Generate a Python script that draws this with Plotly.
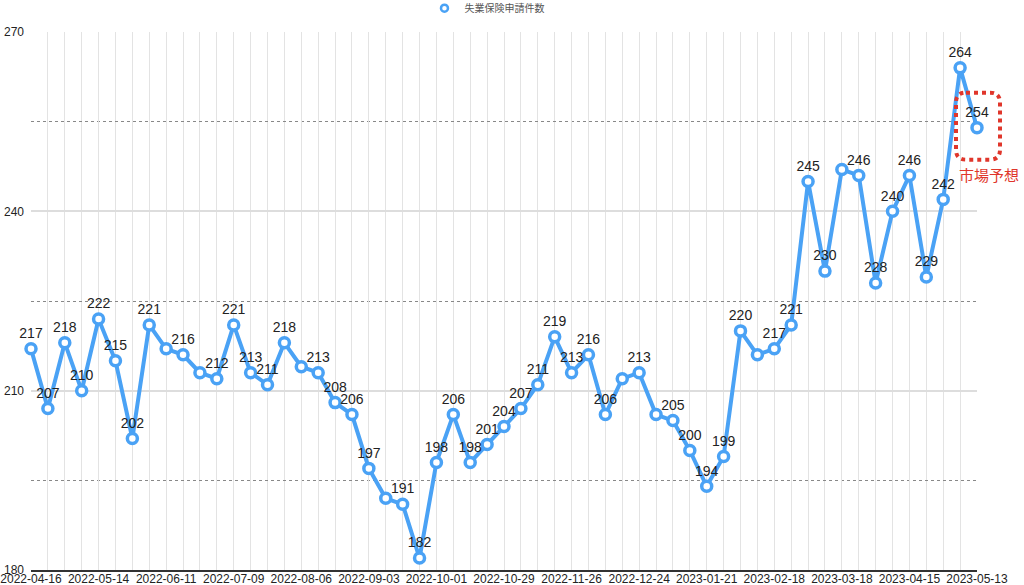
import plotly.graph_objects as go
import pandas as pd

# ---- data ----
dates = pd.date_range("2022-04-16", periods=57, freq="7D").strftime("%Y-%m-%d").tolist()
claims = [217, 207, 218, 210, 222, 215, 202, 221, 217, 216,
          213, 212, 221, 213, 211, 218, 214, 213, 208, 206,
          197, 192, 191, 182, 198, 206, 198, 201, 204, 207,
          211, 219, 213, 216, 206, 212, 213, 206, 205, 200,
          194, 199, 220, 216, 217, 221, 245, 230, 247, 246,
          228, 240, 246, 229, 242, 264, 254]
hidden_label_idx = [8, 10, 16, 21, 35, 37, 43, 48]
labels = ["" if i in hidden_label_idx else str(v) for i, v in enumerate(claims)]
series_name = "失業保険申請件数"
forecast_text = "市場予想"

y_min, y_max = 180, 270
BLUE = "#4aa2f5"
RED = "#e0362b"
FONT = "Liberation Sans, Noto Sans CJK JP, sans-serif"

fig = go.Figure()
fig.add_trace(go.Scatter(
    x=dates, y=claims, mode="lines+markers+text",
    text=labels, textposition="top center",
    textfont=dict(size=14, color="#222222", family=FONT),
    line=dict(color=BLUE, width=4),
    marker=dict(size=10, color="white", line=dict(color=BLUE, width=3.5)),
    cliponaxis=False, showlegend=False, hoverinfo="x+y",
))
# legend-only entry (hollow marker)
fig.add_trace(go.Scatter(
    x=[None], y=[None], mode="markers", name=series_name,
    marker=dict(size=7, color="white", line=dict(color=BLUE, width=2.5)),
))

# forecast highlight around the last point (positioned from data)
last_x_frac = 1.0  # last date sits at the right end of the x range
last_y_frac = (claims[-1] - y_min) / (y_max - y_min)
L, R, T, B, r = -21, 23, 35, -32, 10
path = (f"M {L+r},{T} L {R-r},{T} Q {R},{T} {R},{T-r} L {R},{B+r} Q {R},{B} {R-r},{B} "
        f"L {L+r},{B} Q {L},{B} {L},{B+r} L {L},{T-r} Q {L},{T} {L+r},{T} Z")
fig.add_shape(type="path", path=path, xref="paper", yref="paper",
              xsizemode="pixel", ysizemode="pixel",
              xanchor=last_x_frac, yanchor=last_y_frac,
              line=dict(color=RED, width=4, dash="dot"))
fig.add_annotation(text=forecast_text, xref="paper", yref="paper",
                   x=last_x_frac, y=last_y_frac, xanchor="center", yanchor="middle",
                   xshift=12, yshift=-48,
                   showarrow=False, font=dict(size=15, color=RED, family=FONT))

fig.update_layout(
    width=1024, height=585,
    margin=dict(l=31, r=47, t=32, b=15),
    paper_bgcolor="white", plot_bgcolor="white",
    font=dict(family=FONT, size=12, color="#222222"),
    legend=dict(orientation="h", x=0.482, xanchor="center", y=0.986, yanchor="middle",
                yref="container", font=dict(size=10, color="#555555"),
                bgcolor="rgba(0,0,0,0)"),
    xaxis=dict(
        type="date", range=[dates[0], dates[-1]],
        tick0=dates[0], dtick=28 * 86400000, tickformat="%Y-%m-%d",
        showgrid=True, gridcolor="#e3e3e3", gridwidth=1,
        minor=dict(dtick=7 * 86400000, tick0=dates[0], showgrid=True,
                   gridcolor="#e3e3e3", gridwidth=1),
        showline=True, linecolor="#333333", linewidth=1.5,
        ticks="", tickfont=dict(size=12, color="#222222"), ticklabelstandoff=-3,
        zeroline=False, automargin=False,
    ),
    yaxis=dict(
        range=[y_min, y_max], tick0=180, dtick=30,
        showgrid=True, gridcolor="#dddddd", gridwidth=1.5,
        minor=dict(dtick=15, tick0=180, showgrid=True, gridcolor="#888888",
                   gridwidth=1, griddash="dot"),
        showline=False, ticks="", zeroline=False, ticklabelstandoff=6,
        tickfont=dict(size=12, color="#222222"), automargin=False,
    ),
)
fig.write_html("out.html", config={"displayModeBar": False},
               post_script="document.body.style.margin='0';")
